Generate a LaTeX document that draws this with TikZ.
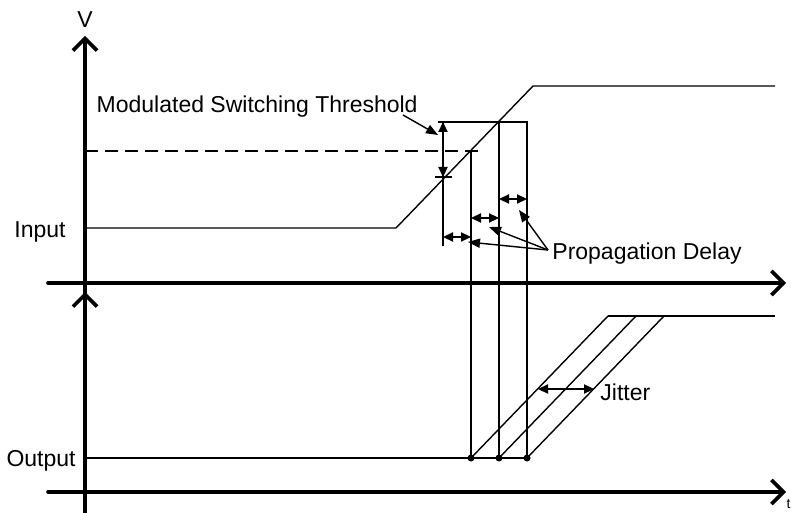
\documentclass[tikz,border=0pt]{standalone}
\usepackage{fontspec}
\setmainfont{Liberation Sans}
\usetikzlibrary{arrows.meta}

\begin{document}
\begin{tikzpicture}[x=0.5pt,y=-0.5pt,
  axis/.style={line width=1.8pt,line cap=round,
               -{Straight Barb[length=6pt,width=12pt,line width=1.8pt]}},
  wave/.style={line width=0.7pt},
  thresh/.style={line width=1pt,dash pattern=on 6.5pt off 3.5pt},
  dim/.style={line width=0.7pt,
              {Triangle[length=5pt,width=4.6pt]}-{Triangle[length=5pt,width=4.6pt]}},
  pointer/.style={line width=0.7pt,-{Triangle[length=6pt,width=4.6pt]}},
  lbl/.style={font=\fontsize{11.5}{13}\selectfont,inner sep=0pt}]
  \useasboundingbox (0,0) rectangle (791,513);

  % axes
  \coordinate (vU0) at (85,302);  \coordinate (vU1) at (85,36);
  \coordinate (hU0) at (48,283);  \coordinate (hU1) at (786,283);
  \coordinate (vL0) at (85,520);  \coordinate (vL1) at (85,292);
  \coordinate (hL0) at (48,492);  \coordinate (hL1) at (786,492);
  \draw[axis] (vU0) -- (vU1);
  \draw[axis] (hU0) -- (hU1);
  \draw[axis] (vL0) -- (vL1);
  \draw[axis] (hL0) -- (hL1);
  \node[lbl,anchor=base] (V) at (85,28) {V};
  \node[lbl,font=\fontsize{7}{8}\selectfont,anchor=north east] (t) at (791,499) {t};

  % input waveform
  \coordinate (in0) at (85,228);  \coordinate (inA) at (396,228);
  \coordinate (inB) at (533,86);  \coordinate (in1) at (775,86);
  \draw[wave] (in0) -- (inA) -- (inB) -- (in1);
  \node[lbl,anchor=base east] (Input) at (66,237) {Input};

  % thresholds
  \coordinate (th0) at (85,151);  \coordinate (th1) at (480,151);
  \draw[thresh] (th0) -- (th1);
  \coordinate (thHi0) at (438,122);  \coordinate (thHi1) at (528,122);
  \coordinate (thLo0) at (435,177);  \coordinate (thLo1) at (452,177);
  \draw[wave] (thHi0) -- (thHi1);
  \draw[wave] (thLo0) -- (thLo1);
  \coordinate (m0) at (443,122);  \coordinate (m1) at (443,246);
  \coordinate (mLo) at (443,177);
  \draw[wave] (m0) -- (m1);
  \draw[dim] (m0) -- (mLo);
  \node[lbl,anchor=base east] (Mod) at (418,113) {Modulated Switching Threshold};
  \coordinate (modTail) at (403,115);  \coordinate (modTip) at (438,135);
  \draw[pointer] (modTail) -- (modTip);

  % switching instants and output waveforms
  \foreach \name/\x/\ytop in {a/471/151, b/499/122, c/527/122}{
    \coordinate (\name Top) at (\x,\ytop);
    \coordinate (\name Out) at (\x,458);
    \coordinate (\name Rise) at (\x+137,316);
    \draw[wave] (\name Top) -- (\name Out);
    \draw[wave] (\name Out) -- (\name Rise);
    \fill (\name Out) circle[radius=3.5];
  }
  \coordinate (out0) at (85,458);  \coordinate (out1) at (775,316);
  \draw[wave] (out0) -- (cOut);
  \draw[wave] (aRise) -- (out1);
  \node[lbl,anchor=base east] (Output) at (76,466) {Output};

  % propagation delays
  \coordinate (d1a) at (443,237);  \coordinate (d1b) at (471,237);
  \coordinate (d2a) at (471,218);  \coordinate (d2b) at (499,218);
  \coordinate (d3a) at (499,199);  \coordinate (d3b) at (527,199);
  \draw[dim] (d1a) -- (d1b);
  \draw[dim] (d2a) -- (d2b);
  \draw[dim] (d3a) -- (d3b);
  \node[lbl,anchor=base west] (Prop) at (552,259) {Propagation Delay};
  \coordinate (pTail) at (548,250);
  \coordinate (p1) at (468,242);  \coordinate (p2) at (489,227);
  \coordinate (p3) at (519,210);
  \foreach \p in {p1,p2,p3}
    \draw[pointer] (pTail) -- (\p);

  % jitter
  \coordinate (j0) at (538,389);  \coordinate (j1) at (594,389);
  \draw[dim] (j0) -- (j1);
  \node[lbl,anchor=base west] (Jitter) at (600,400) {Jitter};
\end{tikzpicture}
\end{document}
